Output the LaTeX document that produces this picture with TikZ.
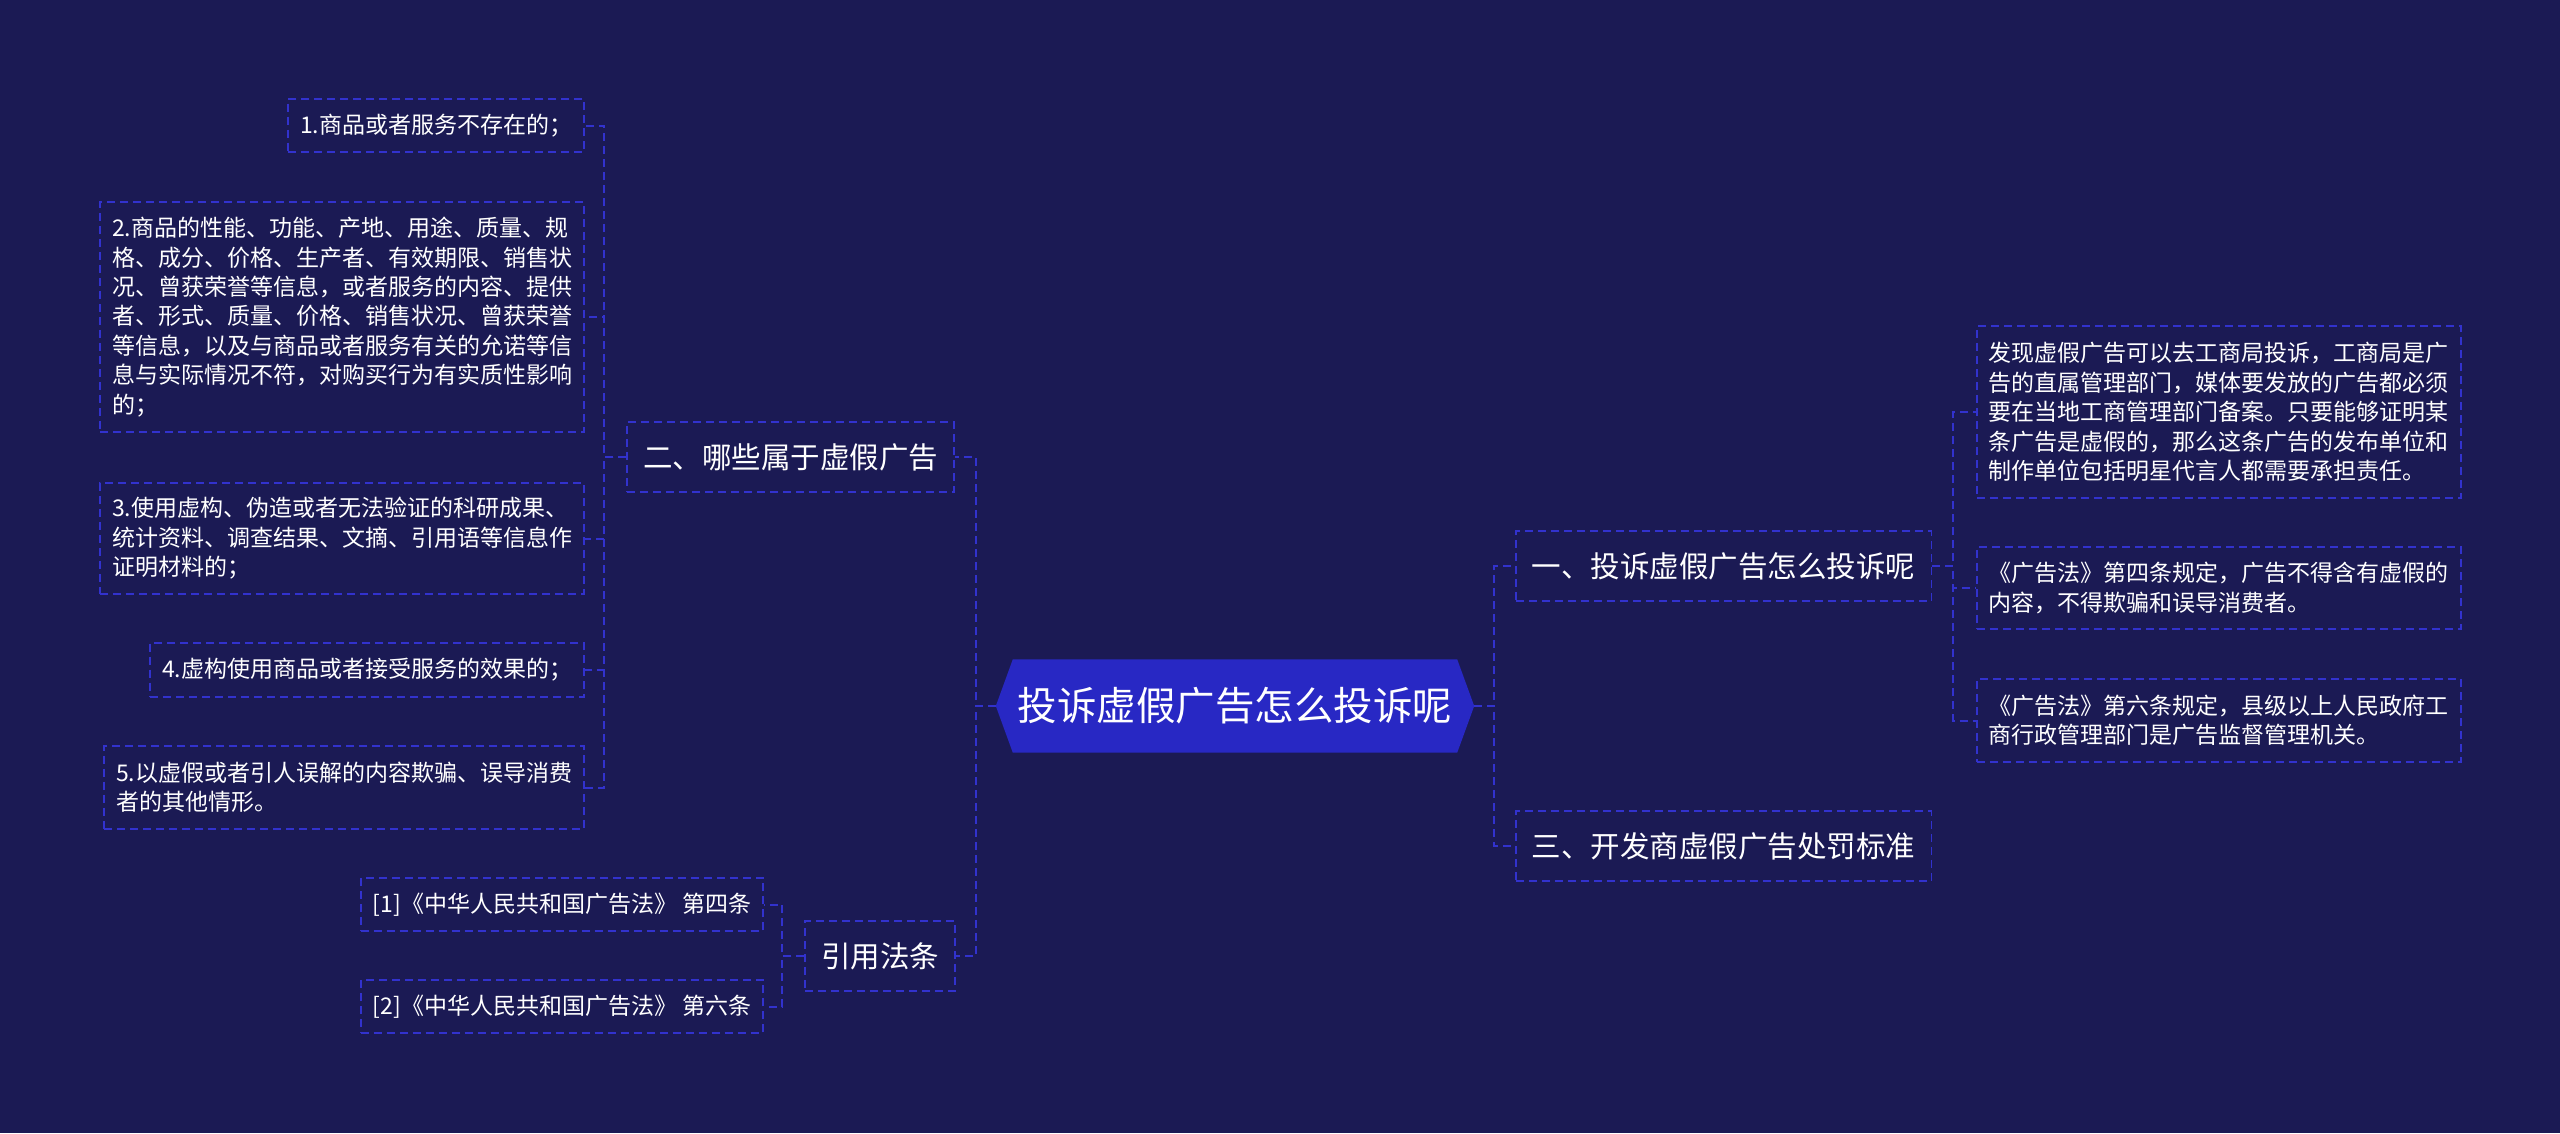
\documentclass[tikz,border=0pt]{standalone}
\usepackage{fontspec}
\setmainfont{Noto Sans CJK SC}
\usetikzlibrary{calc,backgrounds}
\definecolor{bgc}{RGB}{27,26,84}
\definecolor{hexc}{RGB}{40,40,196}
\definecolor{linec}{RGB}{50,50,205}
\tikzset{
  link/.style={draw=linec, line width=2pt, dash pattern=on 8pt off 5pt},
  leaf/.style={draw=linec, line width=1.6pt, dash pattern=on 8pt off 5pt, text=white,
    font=\fontsize{23}{29.4}\selectfont, align=left, inner xsep=12pt, inner ysep=0pt},
  mid/.style={draw=linec, line width=1.6pt, dash pattern=on 8pt off 5pt, text=white,
    font=\fontsize{29.5}{36}\selectfont, inner xsep=16pt, inner ysep=0pt, minimum height=70pt},
}
\begin{document}
\begin{tikzpicture}[x=1pt,y=-1pt]
\useasboundingbox (0,0) rectangle (2560,1133);
% root
\node[text=white, font=\fontsize{39.5}{46}\selectfont, minimum width=478pt, minimum height=93pt, inner sep=0pt] (root) at (1235,706) {投诉虚假广告怎么投诉呢};
% mid level
\node[mid, anchor=east] (n2) at (955,457) {二、哪些属于虚假广告};
\node[mid, anchor=east] (nref) at (956,956) {引用法条};
\node[mid, anchor=west] (n1) at (1515,566) {一、投诉虚假广告怎么投诉呢};
\node[mid, anchor=west] (n3) at (1515,846) {三、开发商虚假广告处罚标准};
% left leaves
\node[leaf, anchor=east, minimum height=53pt] (l1) at (585,125.5) {1.商品或者服务不存在的；};
\node[leaf, anchor=east, minimum height=230pt] (l2) at (585,317) {2.商品的性能、功能、产地、用途、质量、规\\格、成分、价格、生产者、有效期限、销售状\\况、曾获荣誉等信息，或者服务的内容、提供\\者、形式、质量、价格、销售状况、曾获荣誉\\等信息，以及与商品或者服务有关的允诺等信\\息与实际情况不符，对购买行为有实质性影响\\的；};
\node[leaf, anchor=east, minimum height=111pt] (l3) at (585,538.5) {3.使用虚构、伪造或者无法验证的科研成果、\\统计资料、调查结果、文摘、引用语等信息作\\证明材料的；};
\node[leaf, anchor=east, minimum height=54pt] (l4) at (585,670) {4.虚构使用商品或者接受服务的效果的；};
\node[leaf, anchor=east, minimum height=83pt] (l5) at (585,787.5) {5.以虚假或者引人误解的内容欺骗、误导消费\\者的其他情形。};
% references
\node[leaf, anchor=east, minimum height=53pt] (ref1) at (764,904.5) {[1]《中华人民共和国广告法》 第四条};
\node[leaf, anchor=east, minimum height=53pt] (ref2) at (764,1006.5) {[2]《中华人民共和国广告法》 第六条};
% right leaves
\node[leaf, anchor=west, minimum height=172pt] (r1) at (1976,412) {发现虚假广告可以去工商局投诉，工商局是广\\告的直属管理部门，媒体要发放的广告都必须\\要在当地工商管理部门备案。只要能够证明某\\条广告是虚假的，那么这条广告的发布单位和\\制作单位包括明星代言人都需要承担责任。};
\node[leaf, anchor=west, minimum height=82pt] (r2) at (1976,588) {《广告法》第四条规定，广告不得含有虚假的\\内容，不得欺骗和误导消费者。};
\node[leaf, anchor=west, minimum height=83pt] (r3) at (1976,720.5) {《广告法》第六条规定，县级以上人民政府工\\商行政管理部门是广告监督管理机关。};
% connectors
\draw[link] (root.west) -- ++(-20,0) |- (n2.east);
\draw[link] (root.west) -- ++(-20,0) |- (nref.east);
\draw[link] (root.east) -- ++(20,0) |- (n1.west);
\draw[link] (root.east) -- ++(20,0) |- (n3.west);
\foreach \c in {l1,l2,l3,l4,l5}{
  \draw[link] (n2.west) -- ++(-22,0) |- (\c.east);
}
\foreach \c in {ref1,ref2}{
  \draw[link] (nref.west) -- ++(-22,0) |- (\c.east);
}
\foreach \c in {r1,r2,r3}{
  \draw[link] (n1.east) -- ++(21,0) |- (\c.west);
}
\begin{pgfonlayer}{background}
\fill[bgc] (0,0) rectangle (2560,1133);
\fill[hexc] (root.west) -- ($(root.north west)+(17,0)$) -- ($(root.north east)+(-17,0)$) -- (root.east) -- ($(root.south east)+(-17,0)$) -- ($(root.south west)+(17,0)$) -- cycle;
\end{pgfonlayer}
\end{tikzpicture}
\end{document}
